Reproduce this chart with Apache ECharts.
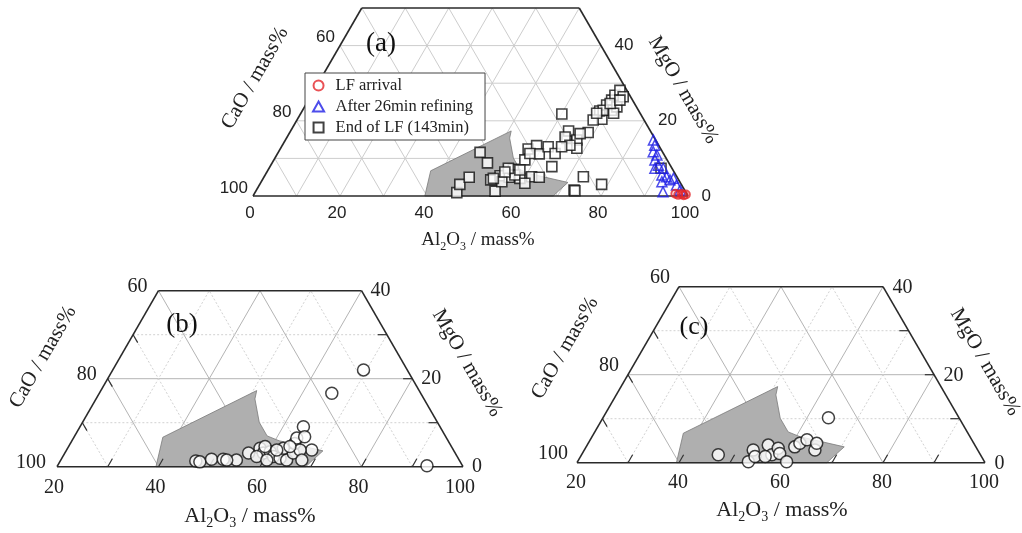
<!DOCTYPE html>
<html><head><meta charset="utf-8">
<script src="https://cdn.jsdelivr.net/npm/echarts@6/dist/echarts.min.js"></script>
<style>html,body{margin:0;padding:0;background:#fff}#c{width:1022px;height:533px}</style>
</head><body><div id="c"></div>
<script>
// ===== data: [Al2O3 mass%, MgO mass%] (CaO = balance) =====
const lfArrival = [[96.8,0.6],[97.6,0.3],[98.3,0.5],[98.9,0.2],[99.3,0.4]];
const after26min = [[84.6,14.9],[85.6,13.5],[86.1,11.8],[87.4,10.9],[87.6,9.6],[89.1,8.2],[88.7,7.4],[90.6,7.4],[91.2,5.6],[92.5,5.1],[93.7,4.3],[94.3,4.7],[92.1,3.8],[95.9,2.9],[93.7,1.1],[97.4,1.6]];
const endOfLF = [[46.4,0.9],[46.0,3.1],[47.2,5.0],[46.4,11.6],[49.5,8.8],[55.0,1.3],[52.5,4.3],[54.1,5.4],[56.4,5.0],[56.3,7.1],[59.0,4.7],[57.4,5.6],[57.7,9.6],[57.0,12.5],[58.5,13.4],[60.2,11.2],[61.5,5.1],[63.3,5.0],[60.8,3.4],[64.8,7.8],[61.3,13.1],[63.8,11.3],[64.5,15.3],[63.9,17.3],[73.0,1.6],[67.0,14.9],[68.1,12.7],[55.3,3.8],[55.0,7.4],[57.9,6.9],[54.7,6.4],[60.1,21.8],[68.6,16.9],[66.9,16.6],[63.9,15.7],[70.0,20.4],[68.4,22.6],[69.2,24.2],[69.7,25.5],[69.8,26.8],[70.3,28.1],[71.9,26.4],[71.0,22.8],[71.8,23.7],[69.1,22.8],[71.9,22.0],[68.1,20.2],[68.0,22.0],[69.8,24.6],[71.6,25.5],[73.4,5.1],[78.6,3.1],[73.3,1.4],[90.1,7.4],[58.0,11.3],[52.9,4.7],[66.1,13.5],[64.4,13.1]];
const panelB = [[46.7,1.3],[47.6,1.1],[49.6,1.7],[51.9,1.7],[54.6,1.5],[56.2,3.1],[57.9,4.2],[59.1,3.1],[60.3,3.4],[61.5,2.3],[63.0,1.9],[64.5,1.5],[65.0,3.1],[64.2,5.3],[64.0,6.5],[64.0,9.1],[65.4,6.8],[68.3,3.8],[66.0,3.8],[67.5,1.5],[58.7,4.6],[58.2,2.3],[62.5,4.2],[63.6,4.6],[52.7,1.5],[60.6,1.5],[61.4,3.8],[69.4,22.0],[65.8,16.7],[92.8,0.2]];
const panelC = [[46.8,1.8],[53.5,0.2],[53.1,2.9],[54.2,1.4],[55.5,4.0],[57.3,1.8],[57.8,3.3],[58.7,2.1],[61.0,0.2],[60.9,3.6],[61.5,4.4],[62.5,5.2],[65.2,2.9],[64.8,4.4],[64.2,10.2],[56.2,1.4]];
const liquidArea = [[39.5,0],[37.5,6.7],[50.7,17.3],[51.3,15.4],[54.8,10.1],[57.9,7.0],[60.8,5.9],[70.6,3.6],[69.6,1.4],[69.0,0]];

// tick labels
const bottomTicksA = [0,20,40,60,80,100];
const bottomTicksBC = [20,40,60,80,100];
const leftTicks = [100,80,60];     // CaO labels
const rightTicks = [0,20,40];      // MgO labels
const tickMgLevels = [0,20,40];

const seriesNames = ['LF arrival','After 26min refining','End of LF (143min)'];

// ===== helpers =====
const H = Math.sqrt(3)/2;
function toXY(al, mg){ return [al + mg/2, mg*H]; }

function segSeries(gi, items, alMin, mgMax, styleFn, z){
  return {type:'custom', xAxisIndex:gi, yAxisIndex:gi, silent:true, z:z, data:items,
    renderItem:function(params, api){
      const k = api.value(0), lv = api.value(1);
      let a, b;
      if (k===0){ a=[alMin,lv]; b=[100-lv,lv]; }
      else if (k===1){ a=[lv,0]; b=[lv, Math.min(mgMax,100-lv)]; }
      else if (k===2){ const s=100-lv; const m=Math.min(mgMax, s-alMin); a=[s,0]; b=[s-m,m]; }
      else if (k===3){ a=[lv,0]; b=[lv,1.8]; }
      else if (k===4){ a=[100-lv,lv]; b=[100-lv-1.8,lv]; }
      else { a=[alMin,lv]; b=[alMin+1.8,lv-1.8]; }
      const p1=api.coord(toXY(a[0],a[1])), p2=api.coord(toXY(b[0],b[1]));
      return {type:'line', shape:{x1:p1[0],y1:p1[1],x2:p2[0],y2:p2[1]}, style:styleFn(k,lv)};
    }};
}
function areaSeries(gi){
  return {type:'custom', xAxisIndex:gi, yAxisIndex:gi, silent:true, z:2, data:[liquidArea[0]],
    renderItem:function(params, api){
      const pts = liquidArea.map(p=>api.coord(toXY(p[0],p[1])));
      return {type:'polygon', shape:{points:pts}, style:{fill:'#afafaf', stroke:'#7a7a7a', lineWidth:0.8}};
    }};
}
function labelSeries(gi, items, cfg){
  return {type:'custom', xAxisIndex:gi, yAxisIndex:gi, silent:true, z:6, data:items,
    renderItem:function(params, api){
      const side = api.value(3);
      const p = api.coord(toXY(api.value(0), api.value(1)));
      const o = cfg.o[side];
      return {type:'text', x:p[0]+o[0], y:p[1]+o[1], style:{text:String(api.value(2)), fontSize:cfg.size, fontFamily:cfg.family, fill:'#222', align:o[2], verticalAlign:'middle'}};
    }};
}
function gridItems(alMin, mgMax, step){
  const it=[];
  for(let m=step;m<mgMax;m+=step) it.push([0,m]);
  for(let a=alMin+step;a<100;a+=step) it.push([1,a]);
  for(let c=step;c<100-alMin;c+=step) it.push([2,c]);
  return it;
}
function tickLabelItems(alMin, bottom){
  const it=[];
  bottom.forEach(v=>it.push([v,0,v,0]));
  leftTicks.forEach((v,i)=>it.push([alMin,tickMgLevels[i],v,1]));
  rightTicks.forEach((v,i)=>it.push([100-tickMgLevels[i],tickMgLevels[i],v,2]));
  return it;
}
const pts = arr => arr.map(p=>toXY(p[0],p[1]));

// grid line styles
const styleA = ()=>({stroke:'#cdcdcd', lineWidth:1});
const styleBC = (k,lv)=> (lv%20===0) ? {stroke:'#b4b4b4', lineWidth:1} : {stroke:'#d2d2d2', lineWidth:1, lineDash:[2,2]};
const frameStyle = ()=>({stroke:'#2a2a2a', lineWidth:1.6});
const tickStyle = ()=>({stroke:'#333', lineWidth:1.2});

const ticksBC = [];
for(let a=30;a<100;a+=10) ticksBC.push([3,a]);
[10,20,30].forEach(m=>{ticksBC.push([4,m]); ticksBC.push([5,m]);});

const serif = 'Liberation Serif, Times New Roman, serif';
const sans = 'Liberation Sans, Arial, sans-serif';

const chart = echarts.init(document.getElementById('c'), null, {renderer:'canvas'});

const axisOff = {show:false};
const option = {
  animation:false,
  backgroundColor:'#fff',
  grid:[
    {left:253, top:8, width:435, height:188},
    {left:57, top:290.7, width:406, height:176},
    {left:577, top:286.7, width:408, height:176}
  ],
  xAxis:[
    Object.assign({type:'value', gridIndex:0, min:0, max:100}, axisOff),
    Object.assign({type:'value', gridIndex:1, min:20, max:100}, axisOff),
    Object.assign({type:'value', gridIndex:2, min:20, max:100}, axisOff)
  ],
  yAxis:[
    Object.assign({type:'value', gridIndex:0, min:0, max:50*H}, axisOff),
    Object.assign({type:'value', gridIndex:1, min:0, max:40*H}, axisOff),
    Object.assign({type:'value', gridIndex:2, min:0, max:40*H}, axisOff)
  ],
  legend:{
    data:[
      {name:seriesNames[0], icon:'path://M5,0A5,5,0,1,1,4.99,0Z'},
      {name:seriesNames[1], icon:'path://M5,0L10,9L0,9Z'},
      {name:seriesNames[2], icon:'path://M0,0L10,0L10,10L0,10Z'}
    ],
    orient:'vertical', left:305, top:73,
    itemWidth:24, itemHeight:10, itemGap:4, padding:[4,12,4,7],
    symbolKeepAspect:true,
    backgroundColor:'#fff', borderColor:'#444', borderWidth:1, borderRadius:0,
    textStyle:{fontFamily:serif, fontSize:16.5, color:'#222', lineHeight:17},
    selectedMode:false, z:10
  },
  series:[
    // panel (a)
    segSeries(0, gridItems(0,50,10), 0, 50, styleA, 1),
    areaSeries(0),
    segSeries(0, [[0,0],[0,50],[1,0],[2,0]], 0, 50, frameStyle, 3),
    labelSeries(0, tickLabelItems(0,bottomTicksA), {size:17, family:sans, o:[[-3,17,'center'],[-5,-8,'right'],[13.5,0,'left']]}),
    {name:seriesNames[2], type:'scatter', xAxisIndex:0, yAxisIndex:0, z:4, clip:false, symbol:'rect', symbolSize:10,
      itemStyle:{color:'#fff', borderColor:'#111', borderWidth:1.6}, data:pts(endOfLF)},
    {name:seriesNames[1], type:'scatter', xAxisIndex:0, yAxisIndex:0, z:4, clip:false, symbol:'triangle', symbolSize:10,
      itemStyle:{color:'rgba(0,0,0,0)', borderColor:'#1f1fe6', borderWidth:1.5}, data:pts(after26min)},
    {name:seriesNames[0], type:'scatter', xAxisIndex:0, yAxisIndex:0, z:4, clip:false, symbol:'circle', symbolSize:8,
      itemStyle:{color:'rgba(0,0,0,0)', borderColor:'#e3262b', borderWidth:2}, data:pts(lfArrival)},
    // panel (b)
    segSeries(1, gridItems(20,40,10), 20, 40, styleBC, 1),
    areaSeries(1),
    segSeries(1, ticksBC, 20, 40, tickStyle, 3),
    segSeries(1, [[0,0],[0,40],[1,20],[2,0]], 20, 40, frameStyle, 3),
    labelSeries(1, tickLabelItems(20,bottomTicksBC), {size:20, family:serif, o:[[-3,21.5,'center'],[-11,-4,'right'],[9,0,'left']]}),
    {name:'(b)', type:'scatter', xAxisIndex:1, yAxisIndex:1, z:4, clip:false, symbol:'circle', symbolSize:12,
      itemStyle:{color:'#fff', borderColor:'#111', borderWidth:1.5}, data:pts(panelB)},
    // panel (c)
    segSeries(2, gridItems(20,40,10), 20, 40, styleBC, 1),
    areaSeries(2),
    segSeries(2, ticksBC, 20, 40, tickStyle, 3),
    segSeries(2, [[0,0],[0,40],[1,20],[2,0]], 20, 40, frameStyle, 3),
    labelSeries(2, tickLabelItems(20,bottomTicksBC), {size:20, family:serif, o:[[-1,20.5,'center'],[-9,-9,'right'],[9.5,1,'left']]}),
    {name:'(c)', type:'scatter', xAxisIndex:2, yAxisIndex:2, z:4, clip:false, symbol:'circle', symbolSize:12,
      itemStyle:{color:'#fff', borderColor:'#111', borderWidth:1.5}, data:pts(panelC)}
  ],
  graphic:[]
};

function alTitle(x, y, size){
  const sub = Math.round(size*0.62);
  return {type:'text', x:x, y:y, z:20, style:{
    text:'{m|Al}{s|2}{m|O}{s|3}{m| / mass%}', align:'center', verticalAlign:'middle',
    rich:{
      m:{fontSize:size, fontFamily:serif, fill:'#222', lineHeight:size+6},
      s:{fontSize:sub, fontFamily:serif, fill:'#222', lineHeight:sub, verticalAlign:'bottom'}
    }}};
}
function rotTitle(x, y, text, size, rot){
  return {type:'text', x:x, y:y, rotation:rot, z:20, style:{text:text, fontSize:size, fontFamily:serif, fill:'#222', align:'center', verticalAlign:'middle'}};
}
function panelTag(x, y, text, size){
  return {type:'text', x:x, y:y, z:20, style:{text:text, fontSize:size, fontFamily:serif, fill:'#111', align:'center', verticalAlign:'middle'}};
}
option.graphic = [
  alTitle(478, 240, 19),
  rotTitle(255, 78, 'CaO / mass%', 21, Math.PI/3),
  rotTitle(683, 90, 'MgO / mass%', 21, -Math.PI/3),
  panelTag(381, 44, '(a)', 27),
  alTitle(250, 516, 22),
  rotTitle(43, 357, 'CaO / mass%', 21, Math.PI/3),
  rotTitle(467, 363, 'MgO / mass%', 21, -Math.PI/3),
  panelTag(182, 325, '(b)', 27),
  alTitle(782, 510, 22),
  rotTitle(565, 348, 'CaO / mass%', 21, Math.PI/3),
  rotTitle(985, 362, 'MgO / mass%', 21, -Math.PI/3),
  panelTag(694, 327, '(c)', 26)
];

chart.setOption(option);
</script>
</body></html>
